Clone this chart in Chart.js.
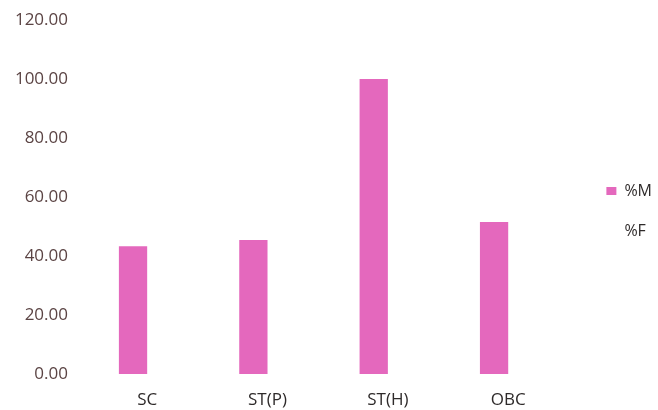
<!DOCTYPE html>
<html>
<head>
<meta charset="utf-8">
<script src="https://cdn.jsdelivr.net/npm/chart.js@4/dist/chart.umd.min.js"></script>
<style>
  html, body { margin: 0; padding: 0; background: #ffffff; }
  #wrap { width: 658px; height: 410px; }
</style>
</head>
<body>
<div id="wrap"><canvas id="c" width="658" height="410"></canvas></div>
<script>
// Share of males (%M) and females (%F) by social group
const categories = ['SC', 'ST(P)', 'ST(H)', 'OBC'];
const maleShare = [43.3, 45.4, 100.0, 51.5];
const femaleShare = [0, 0, 0, 0];
const yTicks = [0, 20, 40, 60, 80, 100, 120];

const pink = '#e468bd';
const LEGEND_EXTRA = 10;   // extra width reserved for the legend
const LEGEND_SHIFT_X = 14; // legend items pushed right, away from the bars
const LEGEND_SHIFT_Y = -4;

// Leaves extra room between the plot area and the legend on the right
const legendGap = {
  id: 'legendGap',
  beforeInit(chart) {
    const legend = chart.legend;
    const fit = legend.fit;
    legend.fit = function () {
      fit.call(this);
      this.width += LEGEND_EXTRA;
    };
  },
  afterLayout(chart) {
    const legend = chart.legend;
    legend.left += LEGEND_SHIFT_X;
    legend.right += LEGEND_SHIFT_X;
    legend.top += LEGEND_SHIFT_Y;
    legend.bottom += LEGEND_SHIFT_Y;
  }
};

new Chart(document.getElementById('c'), {
  type: 'bar',
  data: {
    labels: categories,
    datasets: [
      { label: '%M', data: maleShare, backgroundColor: pink, borderWidth: 0 },
      { label: '%F', data: femaleShare, backgroundColor: 'rgba(255,255,255,0)', borderWidth: 0 }
    ]
  },
  plugins: [legendGap],
  options: {
    responsive: false,
    animation: false,
    devicePixelRatio: 1,
    layout: { padding: { top: 20, right: 0, left: 0, bottom: 0 } },
    datasets: { bar: { categoryPercentage: 0.47, barPercentage: 1.0 } },
    scales: {
      x: {
        grid: { display: false, drawTicks: false },
        border: { display: false },
        ticks: { color: '#2e2a2a', font: { family: 'Open Sans', size: 17 }, padding: 16 },
        afterFit: (scale) => { scale.height = 36; }
      },
      y: {
        min: 0,
        max: 120,
        afterBuildTicks: (axis) => { axis.ticks = yTicks.map(v => ({ value: v })); },
        afterFit: (scale) => {
          scale.width = 87;
          scale.paddingTop = 0;
          scale.paddingBottom = 0;
        },
        grid: { display: false, drawTicks: false },
        border: { display: false },
        ticks: {
          color: '#5b4444',
          font: { family: 'Open Sans', size: 17 },
          padding: 19,
          callback: (v) => Number(v).toFixed(2)
        }
      }
    },
    plugins: {
      tooltip: { enabled: false },
      legend: {
        position: 'right',
        align: 'center',
        labels: {
          color: '#2e2a2a',
          font: { family: 'Open Sans', size: 16 },
          boxWidth: 10,
          boxHeight: 8,
          padding: 24
        }
      }
    }
  }
});
</script>
</body>
</html>
